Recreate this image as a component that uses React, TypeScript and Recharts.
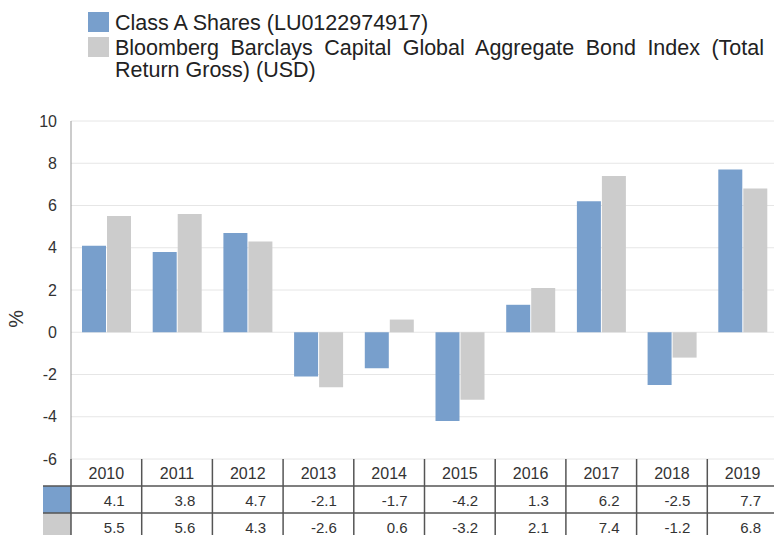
import React from 'react';
import { BarChart, Bar, XAxis, YAxis, CartesianGrid } from 'recharts';

const years = ['2010', '2011', '2012', '2013', '2014', '2015', '2016', '2017', '2018', '2019'];
const classA = [4.1, 3.8, 4.7, -2.1, -1.7, -4.2, 1.3, 6.2, -2.5, 7.7];
const bondIndex = [5.5, 5.6, 4.3, -2.6, 0.6, -3.2, 2.1, 7.4, -1.2, 6.8];
const yTicks = [-6, -4, -2, 0, 2, 4, 6, 8, 10];

const seriesNames = [
  'Class A Shares (LU0122974917)',
  'Bloomberg Barclays Capital Global Aggregate Bond Index (Total Return Gross) (USD)',
];

const BLUE = '#789fcc';
const GREY = '#cccccc';
const BORDER = '#555555';
const TEXT = '#333333';
const FONT = 'Liberation Sans, Arial, sans-serif';

const CHART_W = 778;
const CHART_H = 535;
const LEFT = 71;
const TOP = 121;
const AXIS_H = 76;
const ROW_H = 27;
const SWATCH_W = 28;

const data = years.map((year, i) => ({ year, classA: classA[i], bondIndex: bondIndex[i] }));

const bandWidth = (CHART_W - LEFT) / years.length;

const TableTick = (props: any) => {
  const { x, y, payload } = props;
  const i = payload.index;
  const left = x - bandWidth / 2;
  const right = x + bandWidth / 2;
  return (
    <g>
      {i === 0 && (
        <g>
          <rect x={left - SWATCH_W} y={y + ROW_H} width={SWATCH_W} height={ROW_H} fill={BLUE} />
          <rect x={left - SWATCH_W} y={y + ROW_H * 2} width={SWATCH_W} height={ROW_H} fill={GREY} />
          <line x1={left - SWATCH_W} x2={left} y1={y + ROW_H} y2={y + ROW_H} stroke={BORDER} strokeWidth={1.5} />
          <line x1={left - SWATCH_W} x2={left} y1={y + ROW_H * 2} y2={y + ROW_H * 2} stroke={BORDER} strokeWidth={1.5} />
          <line x1={left} x2={left} y1={y} y2={y + ROW_H * 3} stroke={BORDER} strokeWidth={1.5} />
        </g>
      )}
      <line x1={left} x2={right} y1={y + ROW_H} y2={y + ROW_H} stroke={BORDER} strokeWidth={1.5} />
      <line x1={left} x2={right} y1={y + ROW_H * 2} y2={y + ROW_H * 2} stroke={BORDER} strokeWidth={1.5} />
      {i < years.length - 1 && (
        <line x1={right} x2={right} y1={y} y2={y + ROW_H * 3} stroke={BORDER} strokeWidth={1.5} />
      )}
      <text x={x} y={y + 20} textAnchor="middle" fontSize={16} fill={TEXT} fontFamily={FONT}>
        {payload.value}
      </text>
      <text x={right - 17} y={y + 47} textAnchor="end" fontSize={15} fill={TEXT} fontFamily={FONT}>
        {classA[i].toFixed(1)}
      </text>
      <text x={right - 17} y={y + 74} textAnchor="end" fontSize={15} fill={TEXT} fontFamily={FONT}>
        {bondIndex[i].toFixed(1)}
      </text>
    </g>
  );
};

const PercentLabel = (props: any) => {
  const { viewBox } = props;
  const lx = viewBox.x + 16;
  const ly = viewBox.y + viewBox.height * 0.585;
  return (
    <text x={lx} y={ly} transform={`rotate(-90 ${lx} ${ly})`} textAnchor="middle" dominantBaseline="central" fontSize={20} fill={TEXT} fontFamily={FONT}>
      %
    </text>
  );
};

const legendText: React.CSSProperties = {
  fontSize: 21.5,
  lineHeight: '22px',
  color: '#222',
  fontFamily: FONT,
};

export default function App() {
  return (
    <div style={{ position: 'absolute', top: 0, left: 0, width: 774, height: 535, overflow: 'hidden', background: '#fff' }}>
      <div style={{ position: 'absolute', left: 88, top: 12, width: 676 }}>
        <div style={{ display: 'flex', alignItems: 'flex-start', marginBottom: 3 }}>
          <div style={{ width: 21, height: 20, background: BLUE, flex: 'none' }} />
          <div style={{ ...legendText, marginLeft: 6 }}>{seriesNames[0]}</div>
        </div>
        <div style={{ display: 'flex', alignItems: 'flex-start' }}>
          <div style={{ width: 21, height: 20, background: GREY, flex: 'none' }} />
          <div style={{ ...legendText, marginLeft: 6, flex: 1 }}>
            <div style={{ textAlign: 'justify', textAlignLast: 'justify' }}>
              Bloomberg Barclays Capital Global Aggregate Bond Index (Total
            </div>
            <div>Return Gross) (USD)</div>
          </div>
        </div>
      </div>
      <div style={{ position: 'absolute', top: 0, left: 0 }}>
        <BarChart
          width={CHART_W}
          height={CHART_H}
          data={data}
          margin={{ top: TOP, right: 0, bottom: 0, left: 0 }}
          barCategoryGap={11}
          barGap={1}
        >
          <CartesianGrid vertical={false} stroke="#e6e6e6" />
          <XAxis
            dataKey="year"
            height={AXIS_H}
            axisLine={false}
            tickLine={false}
            tickSize={0}
            tickMargin={0}
            interval={0}
            tick={<TableTick />}
          />
          <YAxis
            width={LEFT}
            domain={[-6, 10]}
            ticks={yTicks}
            interval={0}
            axisLine={{ stroke: '#999' }}
            tickLine={false}
            tickMargin={8}
            tick={{ fontSize: 16, fill: TEXT, fontFamily: FONT }}
            label={<PercentLabel />}
          />
          <Bar dataKey="classA" fill={BLUE} isAnimationActive={false} />
          <Bar dataKey="bondIndex" fill={GREY} isAnimationActive={false} />
        </BarChart>
      </div>
    </div>
  );
}
